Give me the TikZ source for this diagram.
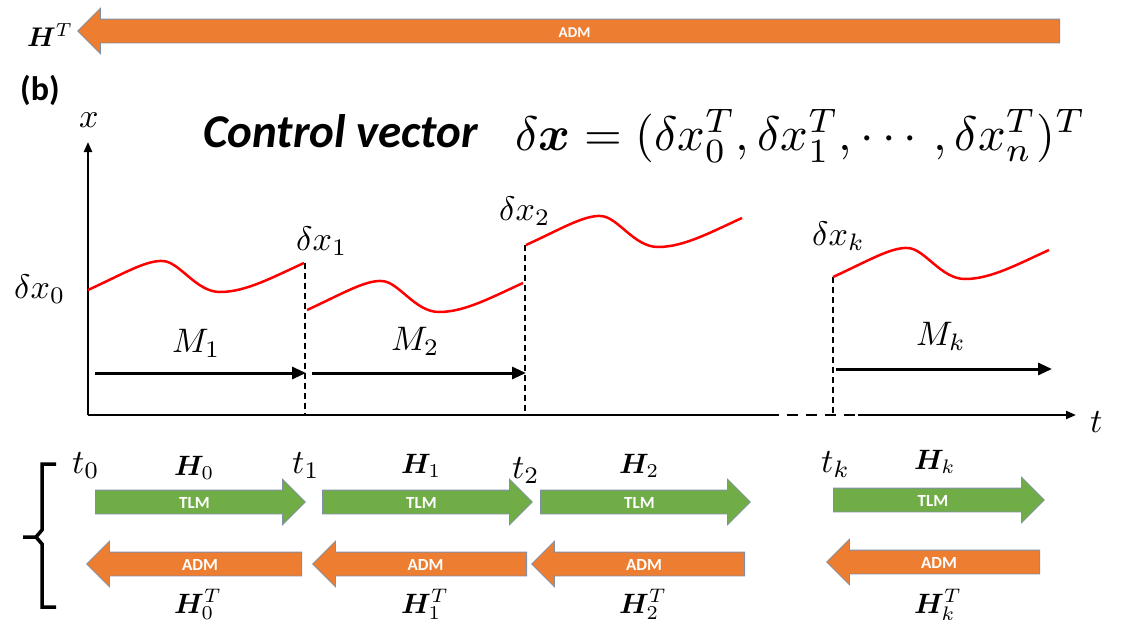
\documentclass[tikz,border=0pt]{standalone}
\usepackage{amsmath,bm}
\usepackage{graphicx}
\usepackage{fontspec}
\newfontfamily\carlito{Carlito}
\usetikzlibrary{shapes.arrows,arrows.meta}

\definecolor{tlmgreen}{HTML}{70AD47}
\definecolor{admorange}{HTML}{ED7D31}
\definecolor{blkline}{HTML}{7F8FA6}

% math labels are set at 10pt and scaled up
\newcommand{\mlbl}[2]{\scalebox{#1}{$#2$}}

\tikzset{
  lbl/.style={inner sep=0pt, anchor=base west},
  blk/.style={single arrow, single arrow head extend=11pt, draw=blkline, line width=0.8pt,
    inner xsep=2pt, inner ysep=5.5pt, text height=12pt, text depth=0pt, anchor=tail,
    font=\carlito\bfseries\fontsize{17}{17}\selectfont, text=white},
  tlm/.style={blk, fill=tlmgreen},
  adm/.style={blk, fill=admorange, shape border rotate=180},
  curve/.style={red, line width=2.5pt},
  vdash/.style={line width=1.5pt, dash pattern=on 6pt off 4pt},
  marrow/.style={line width=3pt, -{Triangle[length=14pt,width=12pt]}},
  axis/.style={line width=2.2pt, -{Triangle[length=10pt,width=8pt]}}
}

\begin{document}
\begin{tikzpicture}[x=1pt,y=-1pt]
  \useasboundingbox (0,0) rectangle (1127,619);
  % Whole-window adjoint
  \node[adm, minimum height=982pt, font=\carlito\bfseries\fontsize{15}{15}\selectfont] (adm-all) at (1060,31) {ADM};
  \node[lbl] (HT) at (27,46) {\mlbl{2.7}{\bm{H}^T}};
  \node[lbl, font=\carlito\bfseries\fontsize{34}{40}\selectfont] (b) at (20,100) {(b)};
  % Control vector
  \node[lbl, font=\carlito\bfseries\itshape\fontsize{47}{56}\selectfont] (cv) at (203,147) {Control vector};
  \node[lbl] (cvec) at (515,150)
    {\mlbl{4.85}{\delta\bm{x}=(\delta x_0^T,\delta x_1^T,\cdots,\delta x_n^T)^T}};
  % Axes
  \coordinate (O) at (88,415);
  \coordinate (ytop) at (88,142);
  \coordinate (xa) at (768,415);
  \coordinate (xb) at (858,415);
  \coordinate (xend) at (1076,415);
  \draw[axis] (O) -- (ytop);
  \draw[line width=2.8pt] (O) -- (xa);
  \draw[line width=2.5pt, dash pattern=on 11pt off 8pt] (xa) -- (xb);
  \draw[axis] (xb) -- (xend);
  \node[lbl] (xlbl) at (79,127) {\mlbl{3.4}{x}};
  \node[lbl] (tlbl) at (1090,432) {\mlbl{3.4}{t}};
  % Window boundaries
  \foreach \x/\y in {305/263, 525/245, 833/277}
    \draw[vdash] (\x,\y) -- (\x,415);
  % Trajectories
  \foreach \sx/\sy in {88/290, 307/310, 526/245, 833/277}
    \draw[curve, shift={(\sx,\sy)}] (0,0) .. controls (35,-16) and (58,-30) .. (75,-29)
      .. controls (92,-28) and (108,2) .. (132,2) .. controls (158,2) and (185,-13) .. (216,-27);
  \node[lbl] (dx0) at (14,298) {\mlbl{3.4}{\delta x_0}};
  \node[lbl] (dx1) at (296,250) {\mlbl{3.4}{\delta x_1}};
  \node[lbl] (dx2) at (499,220) {\mlbl{3.4}{\delta x_2}};
  \node[lbl] (dxk) at (812,245) {\mlbl{3.4}{\delta x_k}};
  % Model steps
  \coordinate (m1a) at (95,373);  \coordinate (m1b) at (306,373);
  \coordinate (m2a) at (312,373); \coordinate (m2b) at (526,373);
  \coordinate (mka) at (836,369); \coordinate (mkb) at (1052,369);
  \draw[marrow] (m1a) -- (m1b);
  \draw[marrow] (m2a) -- (m2b);
  \draw[marrow] (mka) -- (mkb);
  \node[lbl] (M1) at (172,352) {\mlbl{3.4}{M_1}};
  \node[lbl] (M2) at (391,350) {\mlbl{3.4}{M_2}};
  \node[lbl] (Mk) at (916,345) {\mlbl{3.4}{M_k}};
  % Times and observation operators
  \node[lbl] (t0) at (72,473) {\mlbl{3.4}{t_0}};
  \node[lbl] (t1) at (292,473) {\mlbl{3.4}{t_1}};
  \node[lbl] (t2) at (512,478) {\mlbl{3.4}{t_2}};
  \node[lbl] (tk) at (821,472) {\mlbl{3.4}{t_k}};
  \node[lbl] (H0) at (174,475) {\mlbl{2.8}{\bm{H}_0}};
  \node[lbl] (H1) at (401,473) {\mlbl{2.8}{\bm{H}_1}};
  \node[lbl] (H2) at (619,473) {\mlbl{2.8}{\bm{H}_2}};
  \node[lbl] (Hk) at (914,469) {\mlbl{2.8}{\bm{H}_k}};
  % Tangent linear model
  \node[tlm, minimum height=210pt] (tlm0) at (95,502) {TLM};
  \node[tlm, minimum height=210pt] (tlm1) at (322,502) {TLM};
  \node[tlm, minimum height=210pt] (tlm2) at (540,502) {TLM};
  \node[tlm, minimum height=211pt] (tlmk) at (833,500) {TLM};
  % Adjoint model
  \node[adm, minimum height=215pt] (adm0) at (302,564) {ADM};
  \node[adm, minimum height=214pt] (adm1) at (527,564) {ADM};
  \node[adm, minimum height=213pt] (adm2) at (745,564) {ADM};
  \node[adm, minimum height=213pt] (admk) at (1040,562) {ADM};
  \node[lbl] (H0T) at (174,613) {\mlbl{2.8}{\bm{H}_0^T}};
  \node[lbl] (H1T) at (401,613) {\mlbl{2.8}{\bm{H}_1^T}};
  \node[lbl] (H2T) at (619,613) {\mlbl{2.8}{\bm{H}_2^T}};
  \node[lbl] (HkT) at (914,613) {\mlbl{2.8}{\bm{H}_k^T}};
  % Bracket
  \draw[line width=3.5pt] (56,464) -- (42,464) -- (42,530) -- (36,537) -- (23,537);
  \draw[line width=3.5pt] (36,537) -- (42,544) -- (42,607) -- (56,607);
\end{tikzpicture}
\end{document}
